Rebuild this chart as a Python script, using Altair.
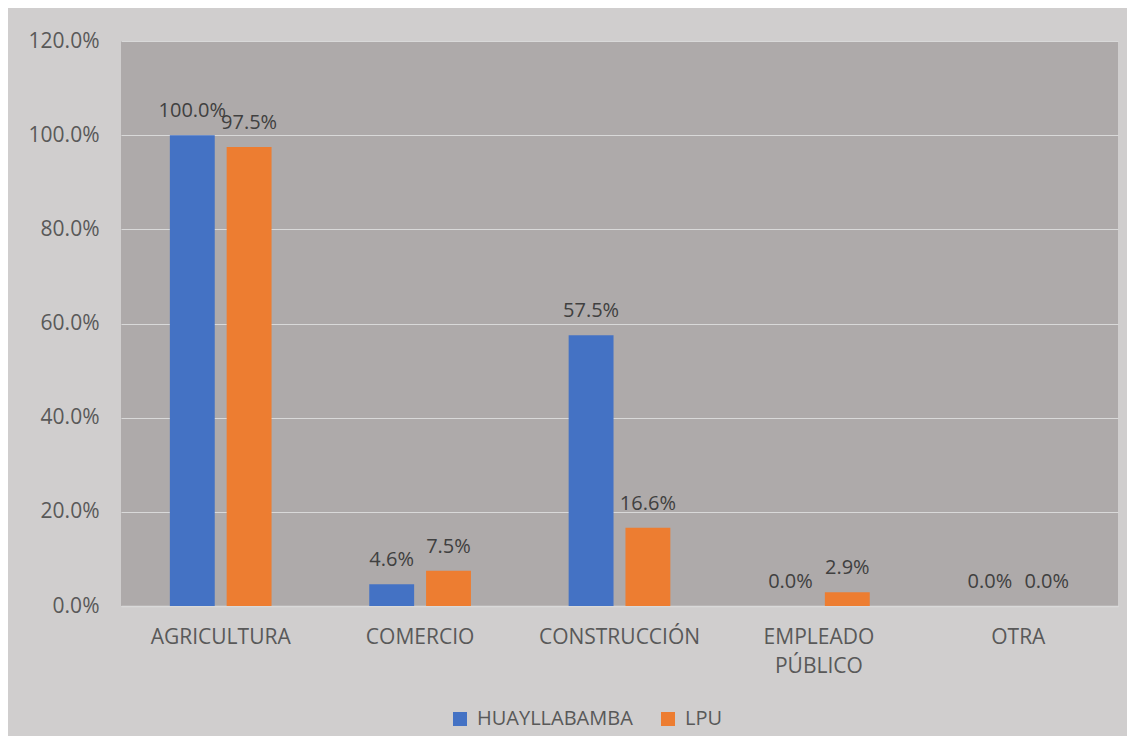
import altair as alt
import pandas as pd

categories = ["AGRICULTURA", "COMERCIO", "CONSTRUCCIÓN", "EMPLEADO PÚBLICO", "OTRA"]
series = ["HUAYLLABAMBA", "LPU"]
huayllabamba = [1.000, 0.046, 0.575, 0.000, 0.000]
lpu = [0.975, 0.075, 0.166, 0.029, 0.000]
colors = ["#4472c4", "#ed7d31"]

rows = []
for i, c in enumerate(categories):
    rows.append({"cat": c, "serie": series[0], "val": huayllabamba[i]})
    rows.append({"cat": c, "serie": series[1], "val": lpu[i]})
df = pd.DataFrame(rows)

FONT = "Open Sans"
FS = 20
AFS = 21

x = alt.X("cat:N", sort=categories, title=None,
          scale=alt.Scale(paddingInner=0.49, paddingOuter=0.245),
          axis=alt.Axis(labelAngle=0, labelFontSize=AFS, labelColor="#595959",
                        labelFont=FONT, labelPadding=20, ticks=False,
                        domainColor="#d9d9d9", domainWidth=1.5,
                        labelExpr="split(datum.label, ' ')", labelLineHeight=29))
xo = alt.XOffset("serie:N", sort=series, scale=alt.Scale(paddingInner=0.21))
y = alt.Y("val:Q", title=None,
          scale=alt.Scale(domain=[0, 1.2]),
          axis=alt.Axis(format=".1%", values=[0, 0.2, 0.4, 0.6, 0.8, 1.0, 1.2],
                        labelFontSize=AFS, labelColor="#595959", labelFont=FONT,
                        labelPadding=22, ticks=False, domain=False,
                        gridColor="#d9d9d9", gridWidth=1))

bars = alt.Chart(df).mark_bar().encode(
    x=x, xOffset=xo, y=y,
    color=alt.Color("serie:N", sort=series,
                    scale=alt.Scale(domain=series, range=colors),
                    legend=alt.Legend(title=None, orient="none", direction="horizontal",
                                      legendX=329, legendY=668,
                                      symbolType="square", symbolSize=196,
                                      symbolStrokeWidth=0, labelFontSize=FS,
                                      labelColor="#595959", labelFont=FONT,
                                      columnPadding=25, labelOffset=7)),
)

labels = alt.Chart(df).mark_text(baseline="alphabetic", dy=-18, fontSize=FS,
                                 color="#404040", font=FONT).encode(
    x=alt.X("cat:N", sort=categories), xOffset=alt.XOffset("serie:N", sort=series),
    y="val:Q",
    text=alt.Text("val:Q", format=".1%"),
)

chart = (bars + labels).properties(
    width=997, height=565,
    background="#d0cece",
    padding={"left": 113, "top": 33, "right": 9, "bottom": 130},
    autosize=alt.AutoSizeParams(type="none"),
).configure_view(fill="#aeaaaa", stroke=None)

chart.save("out.html", embed_options={"renderer": "svg", "actions": False})
